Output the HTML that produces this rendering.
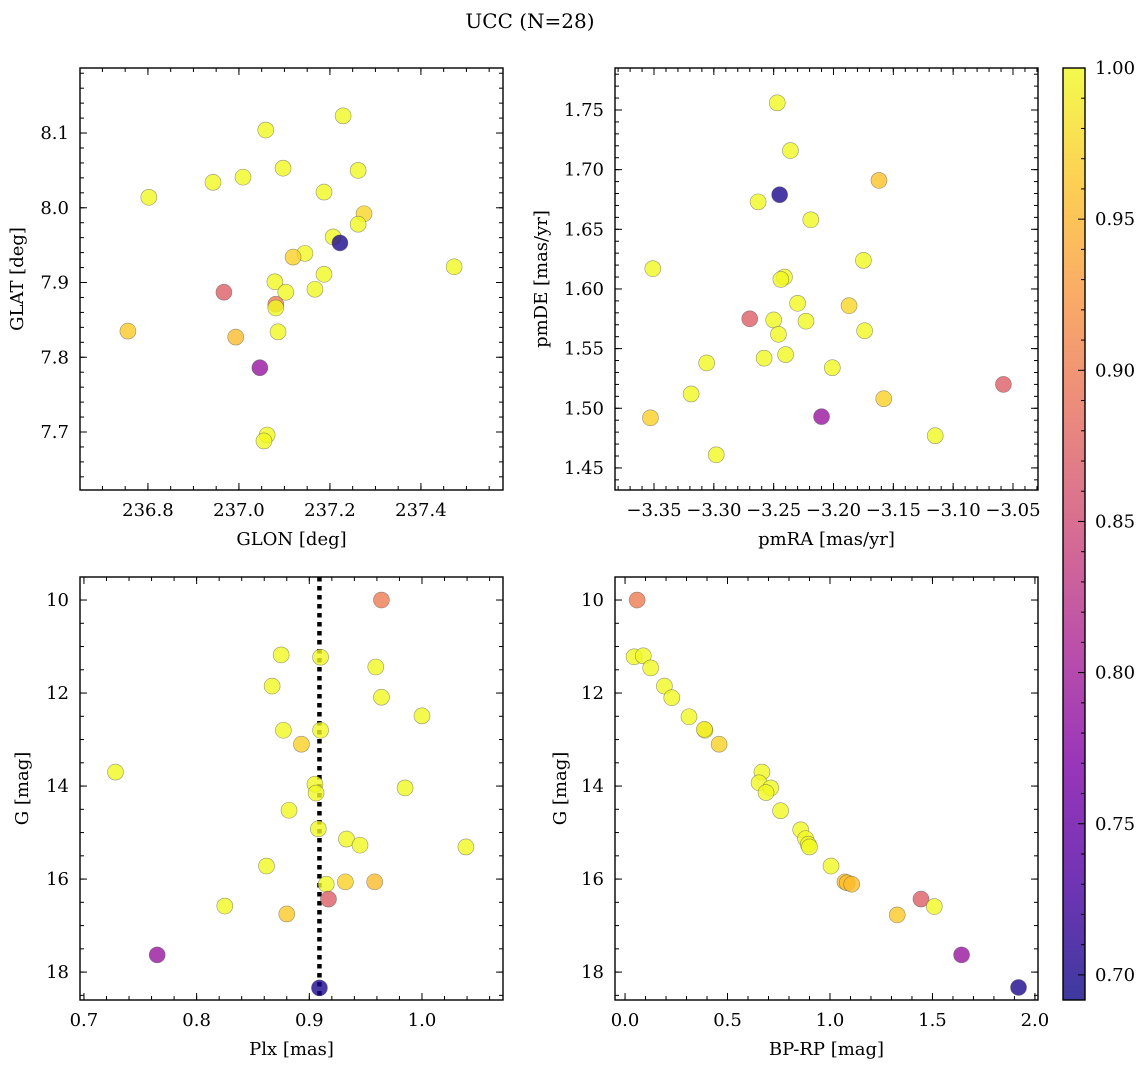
<!DOCTYPE html>
<html><head><meta charset="utf-8">
<style>
html,body{margin:0;padding:0;background:#fff;}
svg{display:block;font-family:"DejaVu Serif","Liberation Serif",serif;}
</style></head>
<body>
<svg id="fig" width="1148" height="1067" viewBox="0 0 1148 1067" xmlns="http://www.w3.org/2000/svg">
<defs>
<linearGradient id="plasmaGrad" x1="0" y1="1" x2="0" y2="0"></linearGradient>
</defs>
<text x="530" y="28" font-size="20" text-anchor="middle">UCC (N=28)</text>
</svg>
<script>
// ---- data ----
const tlLon=[236.802,236.943,237.009,237.059,237.097,237.229,237.262,237.187,237.275,237.262,237.207,237.222,237.145,237.119,237.473,237.187,237.167,237.079,237.103,236.967,237.081,237.081,237.086,236.756,236.993,237.046,237.062,237.055];
const tlLat=[8.014,8.034,8.041,8.104,8.053,8.123,8.050,8.021,7.992,7.978,7.961,7.953,7.939,7.934,7.921,7.911,7.891,7.901,7.887,7.887,7.871,7.866,7.834,7.835,7.827,7.786,7.696,7.688];
const tlProb=[1,1,1,1,1,1,1,1,0.975,1,1,0.70,1,0.97,1,1,1,1,1,0.87,0.90,1,1,0.965,0.955,0.79,1,1];

const trPmra=[-3.247,-3.236,-3.162,-3.245,-3.263,-3.219,-3.175,-3.351,-3.241,-3.244,-3.187,-3.230,-3.270,-3.250,-3.223,-3.174,-3.246,-3.240,-3.258,-3.306,-3.201,-3.058,-3.158,-3.319,-3.210,-3.353,-3.115,-3.298];
const trPmde=[1.756,1.716,1.691,1.679,1.673,1.658,1.624,1.617,1.610,1.608,1.586,1.588,1.575,1.574,1.573,1.565,1.562,1.545,1.542,1.538,1.534,1.520,1.508,1.512,1.493,1.492,1.477,1.461];
const trProb=[1,1,0.96,0.70,1,1,1,1,1,1,0.975,1,0.87,1,1,1,1,1,1,1,1,0.87,0.97,1,0.79,0.97,1,1];

const blPlx=[0.964,0.875,0.910,0.959,0.867,0.964,1.000,0.877,0.910,0.893,0.728,0.905,0.906,0.985,0.882,0.908,0.933,0.945,1.039,0.862,0.915,0.932,0.958,0.917,0.825,0.880,0.765,0.909];
const blG=[10.0,11.18,11.23,11.44,11.85,12.09,12.49,12.80,12.80,13.10,13.70,13.96,14.15,14.04,14.52,14.92,15.14,15.27,15.31,15.72,16.11,16.06,16.06,16.43,16.58,16.75,17.63,18.34];
const blProb=[0.90,1,1,1,1,1,1,1,1,0.97,1,1,1,1,1,1,1,1,1,1,1,0.97,0.955,0.87,1,0.965,0.79,0.70];
const plxLine=[0.909];

const brColor=[0.059,0.044,0.089,0.125,0.192,0.228,0.312,0.390,0.387,0.459,0.668,0.654,0.711,0.688,0.759,0.857,0.881,0.894,0.900,1.005,1.073,1.084,1.106,1.444,1.509,1.328,1.642,1.920];
const brG=[10.0,11.22,11.20,11.46,11.85,12.10,12.51,12.80,12.78,13.10,13.70,13.93,14.04,14.14,14.53,14.94,15.13,15.25,15.31,15.72,16.06,16.08,16.11,16.43,16.59,16.77,17.63,18.33];
const brProb=[0.90,1,1,1,1,1,1,1,0.99,0.97,1,1,1,1,1,1,1,1,1,1,0.955,0.96,0.955,0.87,1,0.965,0.79,0.70];

const cbTicks=[0.70,0.75,0.80,0.85,0.90,0.95,1.00];
const VMIN=0.6917, VMAX=1.0;

const plasma=[[0,'#0d0887'],[0.125,'#4c02a1'],[0.25,'#7e03a8'],[0.375,'#a92395'],[0.5,'#cc4778'],[0.625,'#e56b5d'],[0.75,'#f89441'],[0.875,'#fdc328'],[1,'#f0f921']];

const FS=18;
const NS='http://www.w3.org/2000/svg';
const svg=document.getElementById('fig');
function el(tag,attrs,parent){const e=document.createElementNS(NS,tag);for(const k in attrs)e.setAttribute(k,attrs[k]);(parent||svg).appendChild(e);return e;}
function hex(h){return [parseInt(h.slice(1,3),16),parseInt(h.slice(3,5),16),parseInt(h.slice(5,7),16)];}
function cmap(p){let t=(p-VMIN)/(VMAX-VMIN);t=Math.max(0,Math.min(1,t));
 for(let i=0;i<plasma.length-1;i++){const a=plasma[i],b=plasma[i+1];if(t<=b[0]){const f=(t-a[0])/(b[0]-a[0]);const ca=hex(a[1]),cb=hex(b[1]);return 'rgb('+ca.map((v,j)=>Math.round(v+(cb[j]-v)*f)).join(',')+')';}}
 return plasma[plasma.length-1][1];}
function fmtMinus(s){return s.replace('-','\u2212');}

function panel(name,c){
 const g=el('g',{});
 
 
 const sx=v=>c.x0+(v-c.xmin)/(c.xmax-c.xmin)*(c.x1-c.x0);
 const sy=v=>c.invert? c.y0+(v-c.ymin)/(c.ymax-c.ymin)*(c.y1-c.y0) : c.y1-(v-c.ymin)/(c.ymax-c.ymin)*(c.y1-c.y0);
 const ticks=(lo,hi,step)=>{const a=[];for(let i=Math.ceil(lo/step-1e-9);i<=Math.floor(hi/step+1e-9);i++)a.push(i*step);return a;};
 const tg=el('g',{stroke:'#000','stroke-width':1},g);
 
 
 [[c.xMinor,4],[c.xMajor,7]].forEach(([st,L])=>{ticks(c.xmin,c.xmax,st).forEach(v=>{const x=sx(v);
   el('line',{x1:x,x2:x,y1:c.y1,y2:c.y1-L},tg);el('line',{x1:x,x2:x,y1:c.y0,y2:c.y0+L},tg);});});
 const ylo=Math.min(c.ymin,c.ymax),yhi=Math.max(c.ymin,c.ymax);
 [[c.yMinor,4],[c.yMajor,7]].forEach(([st,L])=>{ticks(ylo,yhi,st).forEach(v=>{const y=sy(v);
   el('line',{x1:c.x0,x2:c.x0+L,y1:y,y2:y},tg);el('line',{x1:c.x1,x2:c.x1-L,y1:y,y2:y},tg);});});
 ticks(c.xmin,c.xmax,c.xMajor).forEach(v=>{const t=el('text',{x:sx(v),y:c.y1+26,'font-size':FS,'text-anchor':'middle'},g);t.textContent=fmtMinus(v.toFixed(c.xd));
   });
 ticks(ylo,yhi,c.yMajor).forEach(v=>{const t=el('text',{x:c.x0-11,y:sy(v)+6,'font-size':FS,'text-anchor':'end'},g);t.textContent=fmtMinus(v.toFixed(c.yd));
   });
 const xl=el('text',{x:(c.x0+c.x1)/2,y:c.y1+55,'font-size':FS,'text-anchor':'middle'},g);xl.textContent=c.xlabel;
 
 const yx=c.ylx, yy=(c.y0+c.y1)/2;
 const yl=el('text',{x:yx,y:yy,'font-size':FS,'text-anchor':'middle',transform:'rotate(-90 '+yx+' '+yy+')'},g);yl.textContent=c.ylabel;
 
 if(c.vline){c.vline.forEach(v=>{const l=el('line',{x1:sx(v),x2:sx(v),y1:c.y0,y2:c.y1,stroke:'#000','stroke-width':4.5,'stroke-dasharray':'4.5 4.5'},g);
   });}
 const pg=el('g',{},g);
 
 
 c.xs.forEach((v,i)=>{const p=el('circle',{cx:sx(v),cy:sy(c.ys[i]),r:8,fill:cmap(c.ps[i]),'fill-opacity':0.8,stroke:'#555','stroke-opacity':0.6,'stroke-width':0.6},pg);
   });
 const f=el('rect',{x:c.x0,y:c.y0,width:c.x1-c.x0,height:c.y1-c.y0,fill:'none',stroke:'#000','stroke-width':1.4},g);
 
}

panel('glon-glat-panel',{x0:80,x1:503,y0:68,y1:490,xmin:236.6507,xmax:237.5804,ymin:7.6224,ymax:8.187,xMajor:0.2,xMinor:0.05,yMajor:0.1,yMinor:0.02,xd:1,yd:1,
 xlabel:'GLON [deg]',ylabel:'GLAT [deg]',ylx:23,xs:tlLon,ys:tlLat,ps:tlProb});
panel('pm-panel',{x0:615,x1:1038,y0:68,y1:490,xmin:-3.3826,xmax:-3.0291,ymin:1.4315,ymax:1.7852,xMajor:0.05,xMinor:0.01,yMajor:0.05,yMinor:0.01,xd:2,yd:2,
 xlabel:'pmRA [mas/yr]',ylabel:'pmDE [mas/yr]',ylx:547,xs:trPmra,ys:trPmde,ps:trProb});
panel('plx-g-panel',{x0:80,x1:503,y0:577,y1:1000,xmin:0.6965,xmax:1.0719,ymin:9.505,ymax:18.60,invert:true,xMajor:0.1,xMinor:0.02,yMajor:2,yMinor:0.5,xd:1,yd:0,
 xlabel:'Plx [mas]',ylabel:'G [mag]',ylx:28,xs:blPlx,ys:blG,ps:blProb,vline:plxLine});
panel('cmd-panel',{x0:615,x1:1038,y0:577,y1:1000,xmin:-0.049,xmax:2.015,ymin:9.505,ymax:18.60,invert:true,xMajor:0.5,xMinor:0.1,yMajor:2,yMinor:0.5,xd:1,yd:0,
 xlabel:'BP-RP [mag]',ylabel:'G [mag]',ylx:566,xs:brColor,ys:brG,ps:brProb});

const grad=document.getElementById('plasmaGrad');
plasma.forEach(s=>el('stop',{offset:s[0],'stop-color':s[1]},grad));
const cb=el('g',{});


const cbX=1063,cbW=22,cbY0=68,cbY1=1000;
el('rect',{x:cbX,y:cbY0,width:cbW,height:cbY1-cbY0,fill:'url(#plasmaGrad)','fill-opacity':0.8},cb);
const cy=v=>cbY1-(v-VMIN)/(VMAX-VMIN)*(cbY1-cbY0);
for(let i=Math.ceil(VMIN/0.01);i<=100;i++){const y=cy(i/100);const major=(i%5===0);
 el('line',{x1:cbX+cbW,x2:cbX+cbW-(major?7:4),y1:y,y2:y,stroke:'#000','stroke-width':1},cb);}
cbTicks.forEach(v=>{const t=el('text',{x:cbX+cbW+10,y:cy(v)+6,'font-size':FS},cb);t.textContent=v.toFixed(2);
 });
el('rect',{x:cbX,y:cbY0,width:cbW,height:cbY1-cbY0,fill:'none',stroke:'#000','stroke-width':1.4},cb);
</script>
</body></html>
